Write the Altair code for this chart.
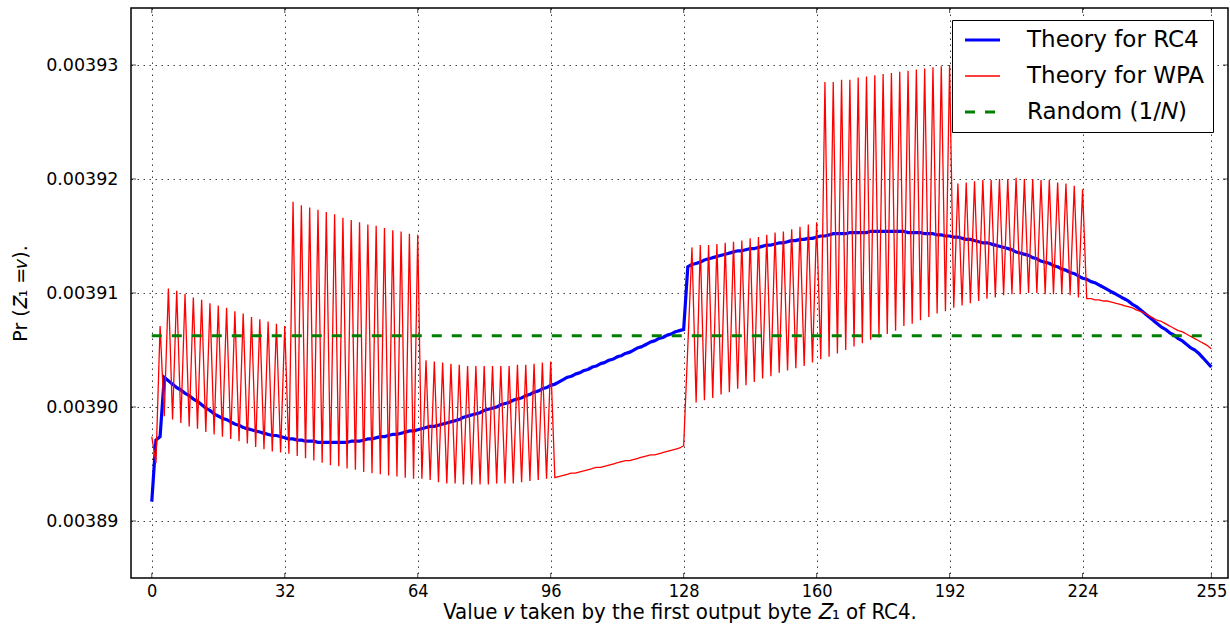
import altair as alt
import pandas as pd

# ---------------- data ----------------
rc4_000_063 = [
    0.0038917, 0.0038971, 0.0038974, 0.0039026, 0.0039023, 0.0039020, 0.0039017, 0.0039015,
    0.0039012, 0.0039010, 0.0039007, 0.0039005, 0.0039002, 0.0038999, 0.0038997, 0.0038994,
    0.0038992, 0.0038990, 0.0038989, 0.0038987, 0.0038985, 0.0038984, 0.0038982, 0.0038981,
    0.0038980, 0.0038979, 0.0038978, 0.0038977, 0.0038976, 0.0038975, 0.0038975, 0.0038974,
    0.0038973, 0.0038972, 0.0038972, 0.0038971, 0.0038971, 0.0038970, 0.0038970, 0.0038970,
    0.0038969, 0.0038969, 0.0038969, 0.0038969, 0.0038969, 0.0038969, 0.0038969, 0.0038969,
    0.0038970, 0.0038970, 0.0038970, 0.0038971, 0.0038972, 0.0038972, 0.0038973, 0.0038974,
    0.0038974, 0.0038975, 0.0038976, 0.0038976, 0.0038977, 0.0038978, 0.0038979, 0.0038979,
]
rc4_064_127 = [
    0.0038980, 0.0038981, 0.0038982, 0.0038983, 0.0038983, 0.0038984, 0.0038985, 0.0038986,
    0.0038987, 0.0038988, 0.0038989, 0.0038991, 0.0038992, 0.0038993, 0.0038994, 0.0038995,
    0.0038997, 0.0038998, 0.0038999, 0.0039000, 0.0039002, 0.0039003, 0.0039004, 0.0039006,
    0.0039007, 0.0039008, 0.0039010, 0.0039011, 0.0039013, 0.0039014, 0.0039016, 0.0039017,
    0.0039019, 0.0039020, 0.0039022, 0.0039024, 0.0039026, 0.0039027, 0.0039029, 0.0039030,
    0.0039032, 0.0039033, 0.0039035, 0.0039036, 0.0039038, 0.0039039, 0.0039041, 0.0039042,
    0.0039044, 0.0039045, 0.0039047, 0.0039048, 0.0039050, 0.0039052, 0.0039053, 0.0039055,
    0.0039057, 0.0039058, 0.0039060, 0.0039061, 0.0039063, 0.0039064, 0.0039066, 0.0039067,
]
rc4_128_191 = [
    0.0039068, 0.0039123, 0.0039125, 0.0039126, 0.0039127, 0.0039129, 0.0039130, 0.0039131,
    0.0039132, 0.0039133, 0.0039134, 0.0039135, 0.0039136, 0.0039137, 0.0039137, 0.0039138,
    0.0039139, 0.0039139, 0.0039140, 0.0039141, 0.0039142, 0.0039142, 0.0039143, 0.0039144,
    0.0039144, 0.0039145, 0.0039146, 0.0039146, 0.0039147, 0.0039147, 0.0039148, 0.0039148,
    0.0039149, 0.0039150, 0.0039150, 0.0039151, 0.0039152, 0.0039152, 0.0039152, 0.0039152,
    0.0039153, 0.0039153, 0.0039153, 0.0039153, 0.0039153, 0.0039154, 0.0039154, 0.0039154,
    0.0039154, 0.0039154, 0.0039154, 0.0039154, 0.0039154, 0.0039154, 0.0039153, 0.0039153,
    0.0039153, 0.0039153, 0.0039152, 0.0039152, 0.0039152, 0.0039151, 0.0039151, 0.0039150,
]
rc4_192_255 = [
    0.0039150, 0.0039149, 0.0039149, 0.0039148, 0.0039147, 0.0039147, 0.0039146, 0.0039145,
    0.0039144, 0.0039144, 0.0039143, 0.0039142, 0.0039141, 0.0039140, 0.0039139, 0.0039138,
    0.0039136, 0.0039135, 0.0039134, 0.0039133, 0.0039131, 0.0039130, 0.0039128, 0.0039127,
    0.0039126, 0.0039124, 0.0039123, 0.0039121, 0.0039120, 0.0039118, 0.0039117, 0.0039115,
    0.0039113, 0.0039112, 0.0039110, 0.0039109, 0.0039107, 0.0039105, 0.0039103, 0.0039101,
    0.0039099, 0.0039097, 0.0039095, 0.0039093, 0.0039090, 0.0039088, 0.0039085, 0.0039082,
    0.0039079, 0.0039076, 0.0039073, 0.0039070, 0.0039068, 0.0039065, 0.0039063, 0.0039060,
    0.0039058, 0.0039055, 0.0039052, 0.0039050, 0.0039047, 0.0039043, 0.0039039, 0.0039035,
]

wpa_000_063 = [
    0.0038974, 0.0038951, 0.0039071, 0.0038992, 0.0039104, 0.0038989, 0.0039102, 0.0038986,
    0.0039099, 0.0038983, 0.0039096, 0.0038981, 0.0039094, 0.0038978, 0.0039091, 0.0038976,
    0.0039089, 0.0038974, 0.0039087, 0.0038972, 0.0039084, 0.0038970, 0.0039082, 0.0038968,
    0.0039079, 0.0038965, 0.0039077, 0.0038963, 0.0039075, 0.0038961, 0.0039073, 0.0038960,
    0.0039071, 0.0038959, 0.0039180, 0.0038957, 0.0039177, 0.0038955, 0.0039175, 0.0038953,
    0.0039173, 0.0038951, 0.0039171, 0.0038949, 0.0039169, 0.0038948, 0.0039166, 0.0038946,
    0.0039164, 0.0038945, 0.0039162, 0.0038943, 0.0039160, 0.0038942, 0.0039159, 0.0038941,
    0.0039157, 0.0038940, 0.0039155, 0.0038939, 0.0039154, 0.0038938, 0.0039152, 0.0038937,
]
wpa_064_127 = [
    0.0039151, 0.0038937, 0.0039041, 0.0038936, 0.0039040, 0.0038934, 0.0039039, 0.0038933,
    0.0039038, 0.0038933, 0.0039037, 0.0038932, 0.0039036, 0.0038932, 0.0039036, 0.0038932,
    0.0039036, 0.0038932, 0.0039036, 0.0038933, 0.0039036, 0.0038933, 0.0039036, 0.0038933,
    0.0039037, 0.0038934, 0.0039037, 0.0038935, 0.0039038, 0.0038936, 0.0039039, 0.0038937,
    0.0039040, 0.0038938, 0.0038939, 0.0038940, 0.0038941, 0.0038942, 0.0038942, 0.0038943,
    0.0038944, 0.0038945, 0.0038946, 0.0038947, 0.0038947, 0.0038948, 0.0038949, 0.0038950,
    0.0038951, 0.0038952, 0.0038953, 0.0038953, 0.0038954, 0.0038955, 0.0038956, 0.0038957,
    0.0038958, 0.0038958, 0.0038959, 0.0038960, 0.0038961, 0.0038962, 0.0038963, 0.0038964,
]
wpa_128_191 = [
    0.0038966, 0.0039053, 0.0039140, 0.0039004, 0.0039142, 0.0039006, 0.0039142, 0.0039008,
    0.0039143, 0.0039011, 0.0039144, 0.0039013, 0.0039145, 0.0039016, 0.0039146, 0.0039019,
    0.0039148, 0.0039022, 0.0039149, 0.0039025, 0.0039151, 0.0039027, 0.0039153, 0.0039030,
    0.0039154, 0.0039032, 0.0039156, 0.0039034, 0.0039158, 0.0039036, 0.0039160, 0.0039039,
    0.0039162, 0.0039042, 0.0039285, 0.0039044, 0.0039285, 0.0039047, 0.0039287, 0.0039050,
    0.0039287, 0.0039053, 0.0039289, 0.0039056, 0.0039290, 0.0039059, 0.0039291, 0.0039061,
    0.0039292, 0.0039064, 0.0039293, 0.0039067, 0.0039294, 0.0039071, 0.0039295, 0.0039073,
    0.0039296, 0.0039076, 0.0039297, 0.0039079, 0.0039298, 0.0039082, 0.0039299, 0.0039084,
]
wpa_192_255 = [
    0.0039300, 0.0039087, 0.0039196, 0.0039089, 0.0039197, 0.0039091, 0.0039198, 0.0039093,
    0.0039199, 0.0039095, 0.0039199, 0.0039096, 0.0039200, 0.0039098, 0.0039200, 0.0039099,
    0.0039201, 0.0039099, 0.0039200, 0.0039100, 0.0039200, 0.0039100, 0.0039199, 0.0039099,
    0.0039199, 0.0039099, 0.0039197, 0.0039099, 0.0039196, 0.0039098, 0.0039194, 0.0039096,
    0.0039191, 0.0039095, 0.0039095, 0.0039094, 0.0039094, 0.0039093, 0.0039093, 0.0039092,
    0.0039091, 0.0039090, 0.0039089, 0.0039088, 0.0039087, 0.0039085, 0.0039084, 0.0039082,
    0.0039080, 0.0039078, 0.0039076, 0.0039075, 0.0039073, 0.0039071, 0.0039069, 0.0039067,
    0.0039066, 0.0039064, 0.0039062, 0.0039060, 0.0039058, 0.0039056, 0.0039054, 0.0039051,
]

random_level = 1 / 256          # Random (1/N), N = 256
random_span = [0, 255]

series_names = ["Theory for RC4", "Theory for WPA", "Random (1/\U0001D441)"]
series_colors = ["#0000ff", "#ff0000", "#008000"]
x_ticks = [0, 32, 64, 96, 128, 160, 192, 224, 255]
y_ticks = [0.00389, 0.00390, 0.00391, 0.00392, 0.00393]
x_domain = [-5, 259]
y_domain = [0.003885, 0.003935]

# ---------------- tables ----------------
rc4 = rc4_000_063 + rc4_064_127 + rc4_128_191 + rc4_192_255
wpa = wpa_000_063 + wpa_064_127 + wpa_128_191 + wpa_192_255

df_rc4 = pd.DataFrame({"v": list(range(len(rc4))), "p": rc4, "series": series_names[0]})
df_wpa = pd.DataFrame({"v": list(range(len(wpa))), "p": wpa, "series": series_names[1]})
df_rnd = pd.DataFrame({"v": random_span, "p": [random_level] * len(random_span),
                       "series": series_names[2]})

ticks_left = pd.DataFrame({"v": [x_domain[0]] * len(y_ticks), "p": y_ticks})
ticks_right = pd.DataFrame({"v": [x_domain[1]] * len(y_ticks), "p": y_ticks})
ticks_bottom = pd.DataFrame({"v": x_ticks, "p": [y_domain[0]] * len(x_ticks)})
ticks_top = pd.DataFrame({"v": x_ticks, "p": [y_domain[1]] * len(x_ticks)})

# ---------------- styling ----------------
COND = "DejaVu Sans Condensed, Liberation Sans Narrow, DejaVu Sans"
SANS = "DejaVu Sans"
GRID = dict(grid=True, gridDash=[1.5, 4.5], gridColor="black", gridOpacity=0.75, gridWidth=1)

x_enc = alt.X(
    "v:Q",
    scale=alt.Scale(domain=x_domain, nice=False, zero=False),
    axis=alt.Axis(
        values=x_ticks, format="d",
        title="Value \U0001D463 taken by the first output byte \U0001D44D\u2081 of RC4.",
        labelFont=COND, labelFontSize=18, titleFont=COND, titleFontSize=22,
        titleFontWeight="normal", labelPadding=4, titlePadding=1,
        ticks=False, tickSize=0, domain=False, labelFlush=False, labelColor="black",
        titleColor="black", **GRID,
    ),
)
y_enc = alt.Y(
    "p:Q",
    scale=alt.Scale(domain=y_domain, nice=False, zero=False),
    axis=alt.Axis(
        values=y_ticks, format=".5f", title="Pr (\U0001D44D\u2081 =\U0001D463).",
        labelFont=SANS, labelFontSize=17.5, titleFont=SANS, titleFontSize=19,
        titleFontWeight="normal", labelPadding=13, titlePadding=15,
        ticks=False, tickSize=0, domain=False, labelColor="black", titleColor="black",
        **GRID,
    ),
)

legend = alt.Legend(
    title=None, orient="none", legendX=821, legendY=12,
    symbolType="stroke", symbolSize=1225, symbolOffset=11,
    symbolStrokeWidth=alt.ExprRef(expr="datum.index == 1 ? 1.3 : 3.1"),
    labelFont=SANS, labelFontSize=23, labelColor="black", labelOffset=33,
    padding=8, rowPadding=12, clipHeight=24,
    strokeColor="black", fillColor="white", cornerRadius=0, labelLimit=400,
)

color = alt.Color("series:N", scale=alt.Scale(domain=series_names, range=series_colors),
                  legend=legend)
dash = alt.StrokeDash("series:N", scale=alt.Scale(domain=series_names,
                      range=[[1, 0], [1, 0], [10, 10]]), legend=legend)


def line_layer(df, stroke_width):
    return alt.Chart(df).mark_line(clip=True, interpolate="linear",
                                   strokeWidth=stroke_width).encode(
        x=x_enc, y=y_enc, color=color, strokeDash=dash
    )


def tick_layer(df, orient):
    return alt.Chart(df).mark_tick(orient=orient, size=10, thickness=1,
                                   color="black", clip=True).encode(x=x_enc, y=y_enc)


chart = alt.layer(
    line_layer(df_rc4, 3.2),
    line_layer(df_wpa, 1.3),
    line_layer(df_rnd, 3.0),
    tick_layer(ticks_left, "horizontal"),
    tick_layer(ticks_right, "horizontal"),
    tick_layer(ticks_bottom, "vertical"),
    tick_layer(ticks_top, "vertical"),
).properties(
    width=1097, height=570,
    autosize=alt.AutoSizeParams(type="none"),
    padding={"left": 131, "top": 8, "right": 2, "bottom": 48},
    background="white",
).configure_view(
    stroke="black", strokeWidth=1.5, fill="white"
)

chart.save("out.html", embed_options={"renderer": "svg", "actions": False})
